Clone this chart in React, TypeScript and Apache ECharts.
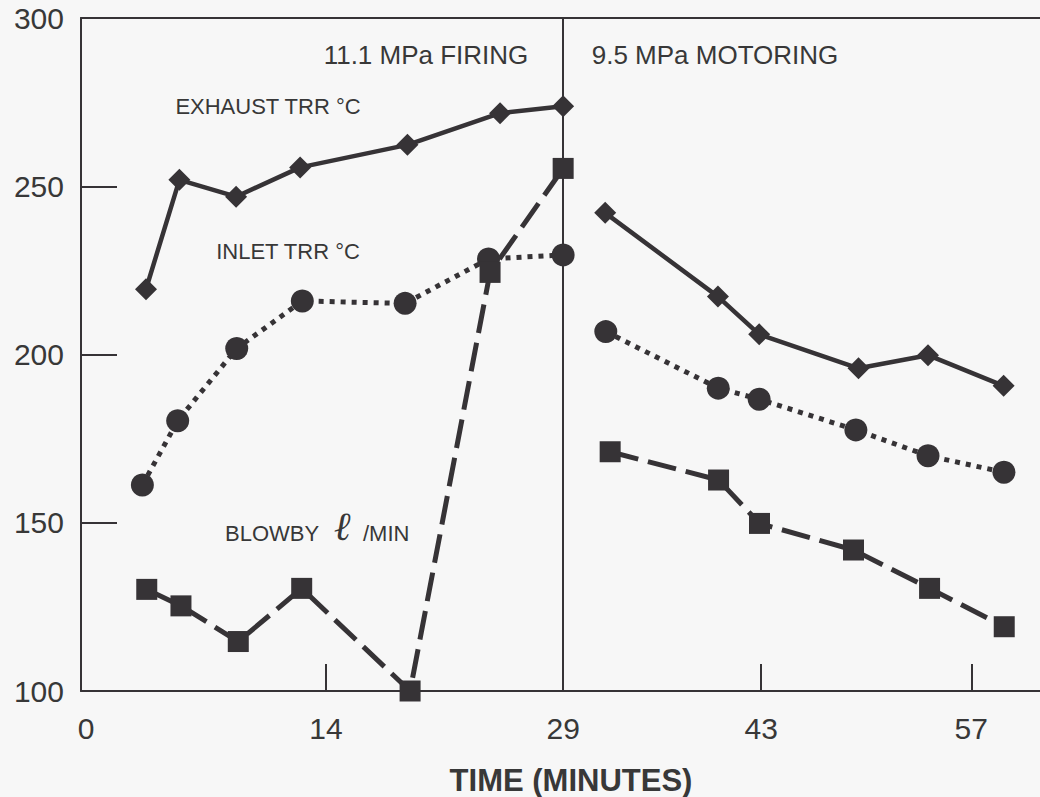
import React, { useEffect, useRef } from "react";
import * as echarts from "echarts";

// X axis: uniform scale (minutes); ticks placed where the original figure draws them
const X_TICK_LABELS = ["0", "14", "29", "43", "57"];
const X_TICK_AT = [0, 15.69, 30.87, 43.55, 57];
const X_MAX = 61.4;
const DIVIDER_AT = 30.87;

const Y_MIN = 100;
const Y_MAX = 300;
const Y_STEP = 50;

const EXHAUST_FIRING: [number, number][] = [
  [4.16, 219.4], [6.3, 251.9], [9.93, 246.9], [14.03, 255.6], [20.9, 262.3], [26.83, 271.7], [30.87, 273.8],
];
const EXHAUST_MOTORING: [number, number][] = [
  [33.56, 242.1], [40.78, 217.2], [43.42, 206.0], [49.78, 195.9], [54.23, 199.8], [59.07, 190.7],
];
const INLET_FIRING: [number, number][] = [
  [3.93, 161.2], [6.19, 180.3], [9.97, 201.8], [14.17, 215.9], [20.75, 215.2], [26.09, 228.4], [30.87, 229.6],
];
const INLET_MOTORING: [number, number][] = [
  [33.6, 206.8], [40.8, 190.0], [43.42, 186.7], [49.61, 177.6], [54.23, 169.9], [59.09, 165.0],
];
const BLOWBY_FIRING: [number, number][] = [
  [4.21, 130.2], [6.4, 125.3], [10.07, 114.7], [14.13, 130.5], [21.07, 100.0], [26.19, 224.4], [30.87, 255.3],
];
const BLOWBY_MOTORING: [number, number][] = [
  [33.88, 171.1], [40.82, 162.7], [43.44, 149.8], [49.46, 141.9], [54.33, 130.5], [59.11, 119.1],
];

const INK = "#363336";
const TEXT = "#383838";
const BG = "#f7f7f7";
const FONT = "'Liberation Sans', Arial, Helvetica, sans-serif";

export default function App() {
  const ref = useRef<HTMLDivElement>(null);

  useEffect(() => {
    document.body.style.margin = "0";
    document.body.style.background = BG;
    if (!ref.current) return;
    const chart = echarts.init(ref.current, undefined, { renderer: "svg" });

    const exhaustStyle = {
      type: "line",
      symbol: "diamond",
      symbolSize: [22, 22],
      itemStyle: { color: INK },
      lineStyle: { color: INK, width: 4.5, type: "solid" },
      clip: false,
      z: 5,
    };
    const inletStyle = {
      type: "line",
      symbol: "circle",
      symbolSize: 23,
      itemStyle: { color: INK },
      lineStyle: { color: INK, width: 5, type: [5, 6], cap: "butt" },
      clip: false,
      z: 4,
    };
    const blowbyStyle = {
      type: "line",
      symbol: "rect",
      symbolSize: 21,
      itemStyle: { color: INK },
      lineStyle: { color: INK, width: 5, type: [29, 10], cap: "butt" },
      clip: false,
      z: 6,
    };

    const labelFor = (v: number) => {
      const i = X_TICK_AT.findIndex((t) => Math.abs(t - v) < 0.01);
      if (i < 0) return "";
      return i === 0 ? `{first|${X_TICK_LABELS[i]}}` : X_TICK_LABELS[i];
    };

    chart.setOption({
      animation: false,
      backgroundColor: BG,
      grid: { left: 81, right: 0, top: 18, bottom: 106, containLabel: false },
      xAxis: [
        {
          type: "value",
          min: 0,
          max: X_MAX,
          position: "bottom",
          axisLine: { show: true, lineStyle: { color: INK, width: 2 } },
          axisTick: {
            show: true,
            inside: true,
            length: 27,
            lineStyle: { color: INK, width: 2 },
            customValues: [X_TICK_AT[1], X_TICK_AT[3], X_TICK_AT[4]],
          },
          axisLabel: {
            show: true,
            customValues: X_TICK_AT,
            formatter: labelFor,
            color: TEXT,
            fontSize: 30,
            fontFamily: FONT,
            margin: 22,
            rich: {
              first: { fontSize: 30, fontFamily: FONT, color: TEXT, padding: [0, 0, 0, 10] },
            },
          },
          splitLine: { show: false },
        },
        {
          type: "value",
          min: 0,
          max: X_MAX,
          position: "top",
          axisLine: { show: true, onZero: false, lineStyle: { color: INK, width: 2 } },
          axisTick: { show: false },
          axisLabel: { show: false },
          splitLine: { show: false },
        },
      ],
      yAxis: {
        type: "value",
        min: Y_MIN,
        max: Y_MAX,
        interval: Y_STEP,
        axisLine: { show: true, lineStyle: { color: INK, width: 2 } },
        axisTick: { show: true, inside: true, length: 36, lineStyle: { color: INK, width: 2 } },
        axisLabel: { color: TEXT, fontSize: 30, fontFamily: FONT, margin: 17 },
        splitLine: { show: false },
      },
      series: [
        {
          ...exhaustStyle,
          name: "EXHAUST TRR °C (firing)",
          data: EXHAUST_FIRING,
          markLine: {
            silent: true,
            symbol: ["none", "none"],
            label: { show: false },
            lineStyle: { color: INK, width: 2, type: "solid" },
            data: [{ xAxis: DIVIDER_AT }],
            z: 1,
          },
        },
        { ...exhaustStyle, name: "EXHAUST TRR °C (motoring)", data: EXHAUST_MOTORING },
        { ...inletStyle, name: "INLET TRR °C (firing)", data: INLET_FIRING },
        { ...inletStyle, name: "INLET TRR °C (motoring)", data: INLET_MOTORING },
        { ...blowbyStyle, name: "BLOWBY l/MIN (firing)", data: BLOWBY_FIRING },
        { ...blowbyStyle, name: "BLOWBY l/MIN (motoring)", data: BLOWBY_MOTORING },
      ],
      graphic: [
        {
          type: "text",
          x: 426,
          y: 55,
          style: { text: "11.1 MPa FIRING", fill: TEXT, font: `26px ${FONT}`, align: "center", verticalAlign: "middle" },
        },
        {
          type: "text",
          x: 715,
          y: 55,
          style: { text: "9.5 MPa MOTORING", fill: TEXT, font: `26px ${FONT}`, align: "center", verticalAlign: "middle" },
        },
        {
          type: "text",
          x: 268,
          y: 106,
          style: { text: "EXHAUST TRR °C", fill: TEXT, font: `22px ${FONT}`, align: "center", verticalAlign: "middle" },
        },
        {
          type: "text",
          x: 288,
          y: 251,
          style: { text: "INLET TRR °C", fill: TEXT, font: `22px ${FONT}`, align: "center", verticalAlign: "middle" },
        },
        {
          type: "text",
          x: 225,
          y: 533,
          style: { text: "BLOWBY", fill: TEXT, font: `22px ${FONT}`, align: "left", verticalAlign: "middle" },
        },
        {
          type: "text",
          x: 342,
          y: 526,
          style: { text: "ℓ", fill: TEXT, font: `italic 40px 'DejaVu Serif', serif`, align: "center", verticalAlign: "middle" },
        },
        {
          type: "text",
          x: 363,
          y: 533,
          style: { text: "/MIN", fill: TEXT, font: `22px ${FONT}`, align: "left", verticalAlign: "middle" },
        },
        {
          type: "text",
          x: 571,
          y: 780,
          style: { text: "TIME (MINUTES)", fill: TEXT, font: `bold 31px ${FONT}`, align: "center", verticalAlign: "middle" },
        },
      ],
    });

    return () => chart.dispose();
  }, []);

  return (
    <div
      ref={ref}
      style={{ position: "absolute", left: 0, top: 0, width: 1040, height: 797, background: BG }}
    />
  );
}
